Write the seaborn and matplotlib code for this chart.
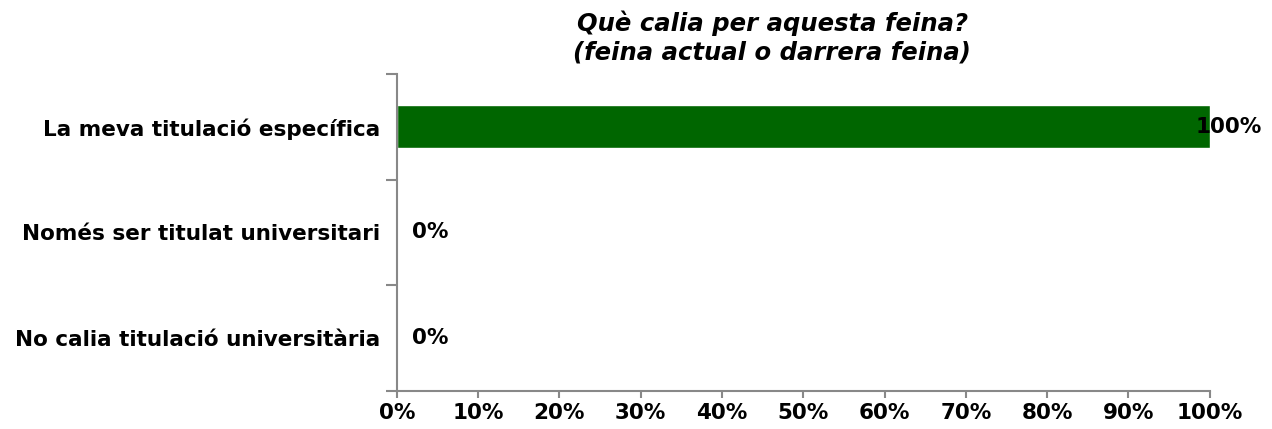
import matplotlib
matplotlib.use("Agg")
import matplotlib.pyplot as plt
from matplotlib.ticker import FixedLocator, PercentFormatter
import seaborn as sns
import pandas as pd

categories = ["La meva titulació específica",
              "Només ser titulat universitari",
              "No calia titulació universitària"]
values = [100, 0, 0]
value_labels = ["100%", "0%", "0%"]
title = "Què calia per aquesta feina?\n(feina actual o darrera feina)"

sns.set_style("white")
plt.rcParams['font.family'] = ['DejaVu Sans']
plt.rcParams['text.color'] = 'black'
plt.rcParams['xtick.color'] = 'black'
plt.rcParams['ytick.color'] = 'black'

df = pd.DataFrame({"cat": categories, "val": values})

fig = plt.figure(figsize=(12.72, 4.29), dpi=100)
ax = fig.add_axes([0.312, 0.0886, 0.639, 0.739])

sns.barplot(data=df, x="val", y="cat", color="#006600", saturation=1,
            width=0.41, ax=ax, orient="h")

ax.set_xlim(0, 100)
ax.set_ylim(2.5, -0.5)
ax.set_xticks(range(0, 101, 10))
ax.xaxis.set_major_formatter(PercentFormatter(decimals=0))
ax.set_xlabel("")
ax.set_ylabel("")

# category boundaries get the tick marks, labels sit between
ax.yaxis.set_minor_locator(FixedLocator([-0.5, 0.5, 1.5, 2.5]))
ax.tick_params(axis="y", which="major", length=0, pad=12)
ax.tick_params(axis="y", which="minor", length=8, width=1.5, color="#888888", left=True)
ax.tick_params(axis="x", which="major", length=5, width=1.5, color="#888888",
               bottom=True, pad=4, labelcolor="black")
for lab in ax.get_xticklabels() + ax.get_yticklabels():
    lab.set_fontweight("bold")
    lab.set_fontsize(15.5)
    lab.set_color("black")

for s in ["top", "right"]:
    ax.spines[s].set_visible(False)
for s in ["left", "bottom"]:
    ax.spines[s].set_color("#888888")
    ax.spines[s].set_linewidth(1.5)

for i, (v, t) in enumerate(zip(values, value_labels)):
    off = 11 if v == 0 else -10
    ax.annotate(t, (v, i), xytext=(off, 0), textcoords="offset points",
                ha="left", va="center", fontsize=15.5, fontweight="bold",
                color="black")

fig.text(0.607, 0.975, title, ha="center", va="top", fontsize=17.5,
         fontweight="bold", style="italic", linespacing=1.2, color="black")

fig.savefig("out.png", dpi=100)
